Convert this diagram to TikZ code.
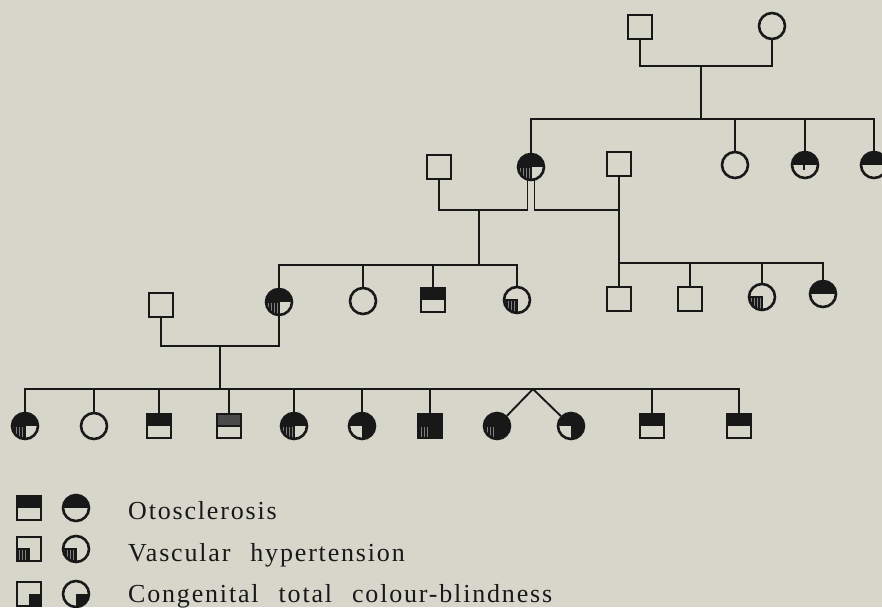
\documentclass[tikz,border=0pt]{standalone}
\usepackage{fontspec}
\setmainfont{Liberation Serif}[LetterSpace=7,WordSpace=2.4]
\usetikzlibrary{patterns.meta}

\definecolor{paper}{RGB}{215,214,202}
\definecolor{ink}{RGB}{24,24,24}

% quarter/half fillings of a pedigree symbol (used inside path pictures)
\newcommand\fillOto{\fill[ink] (path picture bounding box.north west) rectangle (path picture bounding box.east);}
\newcommand\fillOtoPale{\fill[ink!78] (path picture bounding box.north west) rectangle (path picture bounding box.east);
  \draw[ink,line width=1.2pt] (path picture bounding box.west) -- (path picture bounding box.east);}
\newcommand\fillCb{\fill[ink] (path picture bounding box.center) rectangle (path picture bounding box.south east);}
\newcommand\fillHyp{\fill[ink!55] (path picture bounding box.west) rectangle (path picture bounding box.south);
  \fill[pattern={Lines[angle=90,distance=3pt,line width=1.1pt]},pattern color=ink]
    (path picture bounding box.west) rectangle (path picture bounding box.south);
  \draw[ink,line width=1.2pt] (path picture bounding box.west) -- (path picture bounding box.center) -- (path picture bounding box.south);}
\newcommand\fillHypTrace{\draw[ink,line width=1.2pt] ([xshift=-1pt]path picture bounding box.center) -- ++(0,-5pt);}

\tikzset{
  male/.style={rectangle,draw=ink,line width=2.6pt,minimum size=24pt,inner sep=0pt},
  female/.style={circle,draw=ink,line width=2.6pt,minimum size=26pt,inner sep=0pt},
  aff/.style={path picture={#1}},
  line/.style={draw=ink,line width=1.9pt},
  legendtext/.style={anchor=base west,inner sep=0pt,text=ink}
}

\begin{document}
\begin{tikzpicture}[x=1pt,y=-1pt,font=\fontsize{26}{30}\selectfont]
\fill[paper] (0,0) rectangle (882,607);
\useasboundingbox (0,0) rectangle (882,607);

% ---- generation I
\node[male] (I1) at (640,27) {};
\node[female] (I2) at (772,26) {};
\coordinate (mI) at (701,66);
\coordinate (sI) at (701,119);
\draw[line] (I1.south) |- (mI) -| (I2.south);
\draw[line] (mI) -- (sI);

% ---- generation II
\node[male] (II1) at (439,167) {};
\node[female,aff={\fillOto\fillHyp}] (II2) at (531,167) {};
\node[male] (II3) at (619,164) {};
\node[female] (II4) at (735,165) {};
\node[female,aff={\fillOto\fillHypTrace}] (II5) at (805,165) {};
\node[female,aff={\fillOto}] (II6) at (874,165) {};

\draw[line] (II2.north) -- (II2.north |- sI) -- (II6.north |- sI) -- (II6.north);
\draw[line] (II4.north |- sI) -- (II4.north);
\draw[line] (II5.north |- sI) -- (II5.north);

% two marriages of II2
\coordinate (mIIa) at (479,210);
\coordinate (sIIa) at (479,265);
\coordinate (mIIb) at (576,210);
\coordinate (sIIb) at (619,263);
\draw[line] ([xshift=-3.5pt,yshift=1pt]II2.south) |- (mIIa) -| (II1.south);
\draw[line] (mIIa) -- (sIIa);
\draw[line] ([xshift=3.5pt,yshift=1pt]II2.south) |- (mIIb) -| (II3.south);
\draw[line] (II3.south) -- (sIIb);

% ---- generation III
\node[male] (III1) at (161,305) {};
\node[female,aff={\fillOto\fillHyp}] (III2) at (279,302) {};
\node[female] (III3) at (363,301) {};
\node[male,aff={\fillOto}] (III4) at (433,300) {};
\node[female,aff={\fillHyp}] (III5) at (517,300) {};
\node[male] (III6) at (619,299) {};
\node[male] (III7) at (690,299) {};
\node[female,aff={\fillHyp}] (III8) at (762,297) {};
\node[female,aff={\fillOto}] (III9) at (823,294) {};

\draw[line] (III2.north) -- (III2.north |- sIIa) -- (III5.north |- sIIa) -- (III5.north);
\draw[line] (III3.north |- sIIa) -- (III3.north);
\draw[line] (III4.north |- sIIa) -- (III4.north);

\draw[line] (sIIb) -- (III9.north |- sIIb) -- (III9.north);
\draw[line] (sIIb) -- (III6.north);
\draw[line] (III7.north |- sIIb) -- (III7.north);
\draw[line] (III8.north |- sIIb) -- (III8.north);

\coordinate (mIII) at (220,346);
\coordinate (sIII) at (220,389);
\draw[line] (III1.south) |- (mIII) -| (III2.south);
\draw[line] (mIII) -- (sIII);

% ---- generation IV
\node[female,aff={\fillOto\fillHyp}] (IV1) at (25,426) {};
\node[female] (IV2) at (94,426) {};
\node[male,aff={\fillOto}] (IV3) at (159,426) {};
\node[male,aff={\fillOtoPale}] (IV4) at (229,426) {};
\node[female,aff={\fillOto\fillHyp}] (IV5) at (294,426) {};
\node[female,aff={\fillOto\fillCb}] (IV6) at (362,426) {};
\node[male,aff={\fillOto\fillCb\fillHyp}] (IV7) at (430,426) {};
\node[female,aff={\fillOto\fillCb\fillHyp}] (IV8) at (497,426) {};
\node[female,aff={\fillOto\fillCb}] (IV9) at (571,426) {};
\node[male,aff={\fillOto}] (IV10) at (652,426) {};
\node[male,aff={\fillOto}] (IV11) at (739,426) {};

\draw[line] (IV1.north) -- (IV1.north |- sIII) -- (IV11.north |- sIII) -- (IV11.north);
\foreach \n in {IV2,IV3,IV4,IV5,IV6,IV7,IV10}
  \draw[line] (\n.north |- sIII) -- (\n.north);
\coordinate (twin) at (533,389);
\draw[line] (twin) -- (IV8);
\draw[line] (twin) -- (IV9);

% ---- legend
\node[male,aff={\fillOto}] (Lm1) at (29,508) {};
\node[female,aff={\fillOto}] (Lf1) at (76,508) {};
\node[legendtext] (Lt1) at (128,519) {Otosclerosis};

\node[male,aff={\fillHyp}] (Lm2) at (29,549) {};
\node[female,aff={\fillHyp}] (Lf2) at (76,549) {};
\node[legendtext] (Lt2) at (128,561) {Vascular hypertension};

\node[male,aff={\fillCb}] (Lm3) at (29,594) {};
\node[female,aff={\fillCb}] (Lf3) at (76,594) {};
\node[legendtext] (Lt3) at (128,602) {Congenital total colour-blindness};
\end{tikzpicture}
\end{document}
